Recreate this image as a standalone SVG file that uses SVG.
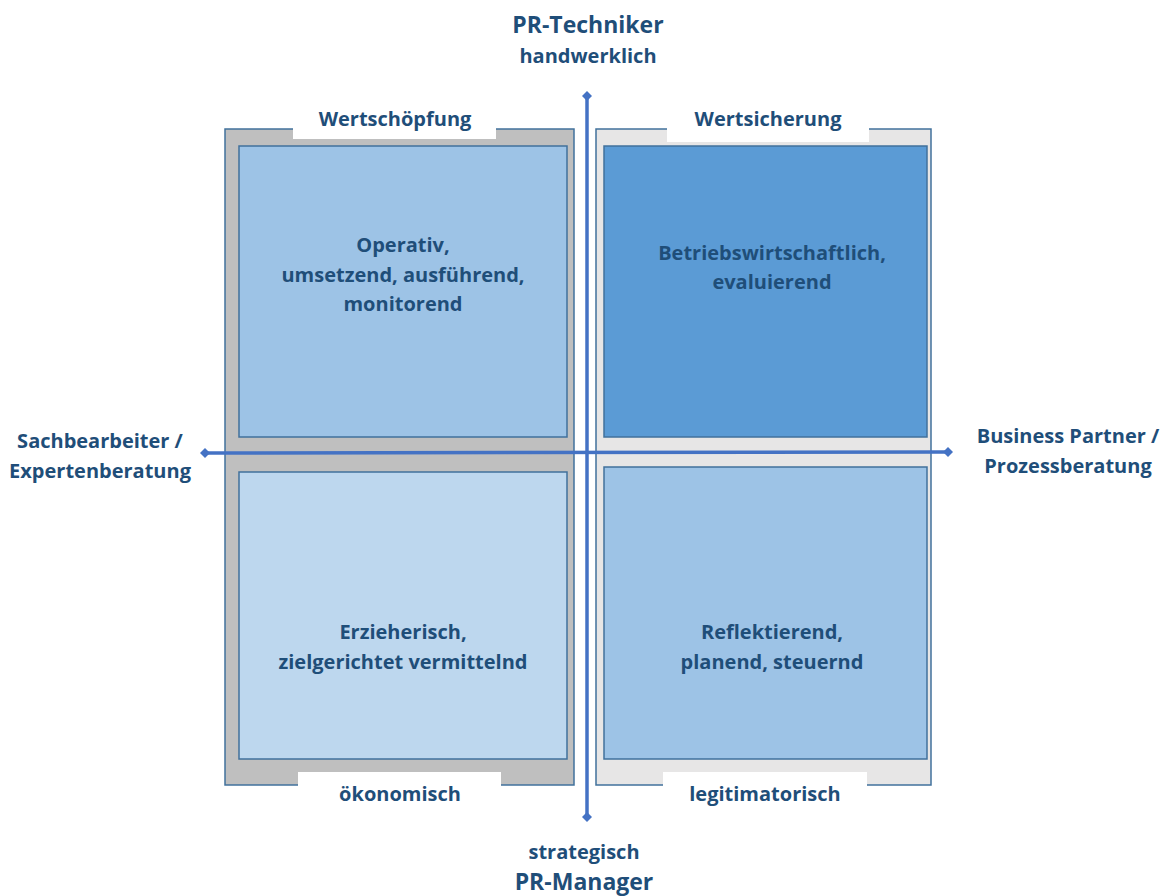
<svg xmlns="http://www.w3.org/2000/svg" width="1167" height="896" viewBox="0 0 1167 896">
<style>
text{font-family:"Open Sans","Liberation Sans",sans-serif;font-weight:bold;fill:#1F4E79;text-anchor:middle}
.t{font-size:20px}
.big{font-size:23px}
.edge{stroke:#41719C;stroke-width:1.5}
.lbl{fill:#FFFFFF}
.ax{stroke:#4472C4;stroke-width:3.5;fill:none}
</style>
<defs>
<marker id="dia" markerWidth="10" markerHeight="10" refX="5" refY="5" markerUnits="userSpaceOnUse" orient="auto">
<path d="M5 0 L10 5 L5 10 L0 5 Z" fill="#4472C4"/>
</marker>
</defs>
<rect width="1167" height="896" fill="#FFFFFF"/>
<g id="frame-left">
<rect x="225" y="129" width="349" height="656" fill="#BFBFBF" class="edge"/>
<rect x="293" y="104" width="203" height="35" class="lbl"/>
<rect x="298" y="772" width="203" height="30" class="lbl"/>
<text x="395" y="126" class="t">Wertschöpfung</text>
<text x="400" y="801" class="t">ökonomisch</text>
</g>
<g id="frame-right">
<rect x="596" y="129" width="335" height="656" fill="#E7E6E6" class="edge"/>
<rect x="667" y="104" width="202" height="38" class="lbl"/>
<rect x="663" y="772" width="204" height="30" class="lbl"/>
<text x="768" y="126" class="t">Wertsicherung</text>
<text x="765" y="801" class="t">legitimatorisch</text>
</g>
<g id="q-top-left">
<rect x="239" y="146" width="328" height="291" fill="#9DC3E6" class="edge"/>
<text x="403" y="252" class="t">Operativ,</text>
<text x="403" y="282" class="t">umsetzend, ausführend,</text>
<text x="403" y="311" class="t">monitorend</text>
</g>
<g id="q-top-right">
<rect x="604" y="146" width="323" height="291" fill="#5B9BD5" class="edge"/>
<text x="772" y="260" class="t">Betriebswirtschaftlich,</text>
<text x="772" y="289" class="t">evaluierend</text>
</g>
<g id="q-bottom-left">
<rect x="239" y="472" width="328" height="287" fill="#BDD7EE" class="edge"/>
<text x="403" y="639" class="t">Erzieherisch,</text>
<text x="403" y="669" class="t">zielgerichtet vermittelnd</text>
</g>
<g id="q-bottom-right">
<rect x="604" y="467" width="323" height="292" fill="#9DC3E6" class="edge"/>
<text x="772" y="639" class="t">Reflektierend,</text>
<text x="772" y="669" class="t">planend, steuernd</text>
</g>
<g id="connectors">
<line x1="587" y1="96" x2="587" y2="817" class="ax" marker-start="url(#dia)" marker-end="url(#dia)"/>
<line x1="205" y1="453" x2="948" y2="452" class="ax" marker-start="url(#dia)" marker-end="url(#dia)"/>
</g>
<g id="axis-top">
<text x="588" y="33" class="big">PR-Techniker</text>
<text x="588" y="63" class="t">handwerklich</text>
</g>
<g id="axis-bottom">
<text x="584" y="859" class="t">strategisch</text>
<text x="584" y="890" class="big">PR-Manager</text>
</g>
<g id="axis-left">
<text x="100" y="448" class="t">Sachbearbeiter /</text>
<text x="100" y="478" class="t">Expertenberatung</text>
</g>
<g id="axis-right">
<text x="1068" y="443" class="t">Business Partner /</text>
<text x="1068" y="473" class="t">Prozessberatung</text>
</g>
</svg>
